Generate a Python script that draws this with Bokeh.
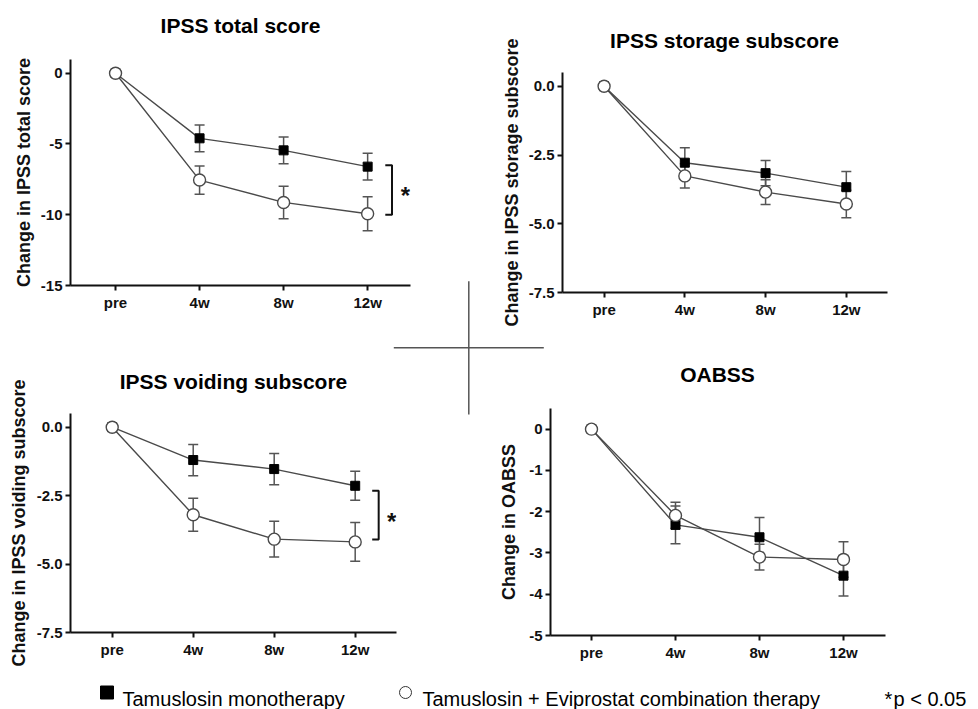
from bokeh.plotting import figure
from bokeh.models import Range1d, FixedTicker, Whisker, TeeHead, ColumnDataSource, GridBox, Column
from bokeh.embed import file_html
from bokeh.resources import INLINE
from bokeh.core.properties import value

# ---------------- data ----------------
weeks = ["pre", "4w", "8w", "12w"]

total_mono = [0, -4.6, -5.45, -6.6]
total_mono_err = [0, 0.95, 0.94, 0.95]
total_combo = [0, -7.55, -9.13, -9.93]
total_combo_err = [0, 1.0, 1.15, 1.2]
total_sig = (-6.5, -10.0)

storage_mono = [0, -2.78, -3.16, -3.67]
storage_mono_err = [0, 0.54, 0.46, 0.57]
storage_combo = [0, -3.26, -3.85, -4.28]
storage_combo_err = [0, 0.44, 0.45, 0.50]

voiding_mono = [0, -1.20, -1.53, -2.14]
voiding_mono_err = [0, 0.57, 0.57, 0.53]
voiding_combo = [0, -3.20, -4.09, -4.19]
voiding_combo_err = [0, 0.60, 0.65, 0.71]
voiding_sig = (-2.32, -4.10)

oabss_mono = [0, -2.32, -2.62, -3.55]
oabss_mono_err = [0, 0.46, 0.48, 0.49]
oabss_combo = [0, -2.09, -3.10, -3.16]
oabss_combo_err = [0, 0.32, 0.31, 0.43]

total_ticks = [0, -5, -10, -15]
total_tick_labels = ["0", "-5", "-10", "-15"]
sub_ticks = [0, -2.5, -5, -7.5]
sub_tick_labels = ["0.0", "-2.5", "-5.0", "-7.5"]
oabss_ticks = [0, -1, -2, -3, -4, -5]
oabss_tick_labels = ["0", "-1", "-2", "-3", "-4", "-5"]

panel_titles = ["IPSS total score", "IPSS storage subscore",
                "IPSS voiding subscore", "OABSS"]

legend_mono = "Tamuslosin monotherapy"
legend_combo = "Tamuslosin + Eviprostat combination therapy"
legend_sig = "p < 0.05"

# ---------------- style ----------------
FONT = "Liberation Sans"
LINE_C = "#4a4a4a"
ERR_C = "#555555"
COL_W = 489
ROW_H = (353, 356)


def make_panel(ylabel, mono, mono_err, combo, combo_err, ticks, tick_labels,
               yr, xr, height, mb, label_standoff, sig=None):
    p = figure(width=COL_W, height=height, output_backend="svg", toolbar_location=None,
               x_range=Range1d(*xr), y_range=Range1d(*yr),
               min_border_left=mb[0], min_border_right=mb[1],
               min_border_top=mb[2], min_border_bottom=mb[3])
    p.background_fill_color = None
    p.border_fill_color = None
    p.outline_line_color = None
    p.grid.visible = False

    xs = list(range(len(weeks)))
    for ax in (p.xaxis[0], p.yaxis[0]):
        ax.axis_line_width = 2
        ax.axis_line_color = "#111111"
        ax.major_tick_line_width = 2
        ax.major_tick_line_color = "#111111"
        ax.major_tick_in = 0
        ax.major_tick_out = 5
        ax.minor_tick_line_color = None
        ax.major_label_text_font = FONT
        ax.major_label_text_font_size = "15px"
        ax.major_label_text_font_style = "bold"
        ax.major_label_text_color = "#111111"
        ax.major_label_standoff = 3
    p.xaxis.ticker = FixedTicker(ticks=xs)
    p.xaxis.major_label_overrides = {i: w for i, w in enumerate(weeks)}
    p.yaxis.ticker = FixedTicker(ticks=ticks)
    p.yaxis.major_label_overrides = {t: l for t, l in zip(ticks, tick_labels)}
    p.yaxis.axis_label = ylabel
    p.yaxis.axis_label_text_font = FONT
    p.yaxis.axis_label_text_font_size = "18px"
    p.yaxis.axis_label_text_font_style = "bold"
    p.yaxis.axis_label_text_color = "#111111"
    p.yaxis.axis_label_standoff = label_standoff

    for vals, errs in ((mono, mono_err), (combo, combo_err)):
        src = ColumnDataSource(dict(
            x=xs[1:],
            upper=[v + e for v, e in zip(vals[1:], errs[1:])],
            lower=[v - e for v, e in zip(vals[1:], errs[1:])]))
        wk = Whisker(base="x", upper="upper", lower="lower", source=src,
                     line_color=ERR_C, line_width=1.5, level="underlay",
                     upper_head=TeeHead(size=10, line_color=ERR_C, line_width=1.5),
                     lower_head=TeeHead(size=10, line_color=ERR_C, line_width=1.5))
        p.add_layout(wk)

    p.line(xs, mono, line_color=LINE_C, line_width=1.4)
    p.line(xs, combo, line_color=LINE_C, line_width=1.4)
    p.scatter(xs, mono, marker="square", size=9, fill_color="black", line_color="black")
    p.scatter(xs, combo, marker="circle", size=12, fill_color="white",
              line_color=LINE_C, line_width=1.4)

    if sig is not None:
        bx = len(weeks) - 1 + 0.29
        t = 0.08
        hi, lo = sig
        p.line([bx - t, bx, bx, bx - t], [hi, hi, lo, lo], line_color="#111111", line_width=2)
        p.text(x=[bx + 0.16], y=[(hi + lo) / 2], text=["*"], text_font=value(FONT),
               text_font_size="24px", text_font_style="bold", text_align="center",
               text_baseline="middle", y_offset=6, text_color="#111111")
    return p


p1 = make_panel("Change in IPSS total score",
                total_mono, total_mono_err, total_combo, total_combo_err,
                total_ticks, total_tick_labels, (-15, 0.97), (-0.536, 3.51),
                ROW_H[0], (70, 79, 59, 68), 4, sig=total_sig)
p2 = make_panel("Change in IPSS storage subscore",
                storage_mono, storage_mono_err, storage_combo, storage_combo_err,
                sub_ticks, sub_tick_labels, (-7.5, 0.5), (-0.515, 3.51),
                ROW_H[0], (73, 91, 72, 61), 4)
p3 = make_panel("Change in IPSS voiding subscore",
                voiding_mono, voiding_mono_err, voiding_combo, voiding_combo_err,
                sub_ticks, sub_tick_labels, (-7.5, 0.5), (-0.515, 3.51),
                ROW_H[1], (70, 93, 60, 77), 5, sig=voiding_sig)
p4 = make_panel("Change in OABSS",
                oabss_mono, oabss_mono_err, oabss_combo, oabss_combo_err,
                oabss_ticks, oabss_tick_labels, (-5, 0.5), (-0.488, 3.5),
                ROW_H[1], (61, 93, 55, 74), 7)

# ---------------- overlay: titles, cross, legend ----------------
TOTAL_W, TOTAL_H = 2 * COL_W, sum(ROW_H)
bg = figure(width=TOTAL_W, height=TOTAL_H, output_backend="svg", toolbar_location=None,
            x_range=Range1d(0, TOTAL_W), y_range=Range1d(TOTAL_H, 0),
            x_axis_location=None, y_axis_location=None, min_border=0)
bg.background_fill_color = None
bg.border_fill_color = None
bg.outline_line_color = None
bg.grid.visible = False

# panel titles, centred over each plot frame
title_x = [240, 724, 233, 717]
title_y = [25, 40, 381, 374]
bg.text(x=title_x, y=title_y, text=panel_titles, text_font=value(FONT),
        text_font_size="21px", text_font_style="bold", text_align="center",
        text_baseline="middle", text_color="black")

cx, cy = 468.3, 347.3
bg.line([cx - 75, cx + 75], [cy, cy], line_color="#555555", line_width=1.5)
bg.line([cx, cx], [cy - 66.6, cy + 66.7], line_color="#555555", line_width=1.5)

base_y = 698
bg.scatter([106.5], [base_y - 6], marker="square", size=13, fill_color="black", line_color="black")
bg.scatter([405], [base_y - 6], marker="circle", size=12, fill_color="white",
           line_color="#333333", line_width=1)
bg.text(x=[122, 422, 884, 893], y=[base_y] * 4,
        text=[legend_mono, legend_combo, "*", legend_sig],
        text_font=value(FONT), text_font_size="20px", text_align="left",
        text_baseline="alphabetic", text_color="black")

grid = GridBox(children=[(Column(p1), 0, 0), (Column(p2), 0, 1),
                         (Column(p3), 1, 0), (Column(p4), 1, 1),
                         (Column(bg), 0, 0, 2, 2)])

open("out.html", "w").write(file_html(grid, INLINE))
